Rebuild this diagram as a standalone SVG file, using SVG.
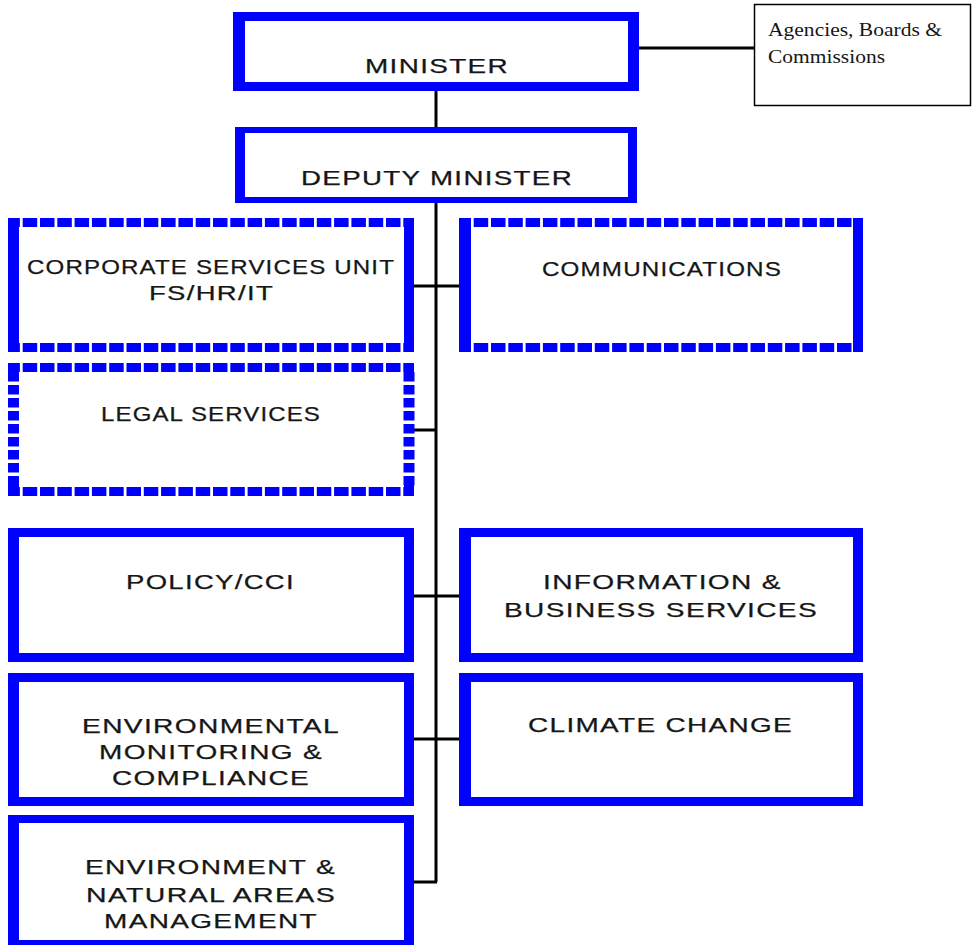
<svg xmlns="http://www.w3.org/2000/svg" width="972" height="945" viewBox="0 0 972 945">
<style>
.b{fill:#0000ff;fill-rule:evenodd}
.s{fill:#0000ff}
.dh{stroke:#0000ff;stroke-width:9;stroke-dasharray:14.5 2.8;stroke-dashoffset:2.6;fill:none}
.dv{stroke:#0000ff;stroke-width:11;stroke-dasharray:9.5 3.5;fill:none}
.t{font-family:"Liberation Sans",Arial,sans-serif;font-size:21px;letter-spacing:1px;fill:#161616;stroke:#161616;stroke-width:0.25}
.r{font-family:"Liberation Serif","Times New Roman",serif;font-size:18px;fill:#161616}
.c{stroke:#000;stroke-width:3;fill:none}
</style>
<rect width="972" height="945" fill="#fff"/>
<g id="connectors">
<path class="c" d="M436 90V128M436 202V882M414 882H437M414 430H436M414 286H459M414 596H459M414 739H459M639 48H755"/>
</g>
<g id="minister">
<path class="b" d="M233 12H639V91H233Z M245 21V82H628V21Z"/>
<text class="t" x="365" y="73" font-size="22" textLength="144" lengthAdjust="spacingAndGlyphs">MINISTER</text>
</g>
<g id="agencies">
<rect x="754.5" y="4.5" width="216" height="101" fill="#fff" stroke="#000" stroke-width="1.5"/>
<text class="r" x="768" y="36" textLength="174" lengthAdjust="spacingAndGlyphs">Agencies, Boards &amp;</text>
<text class="r" x="768" y="63" textLength="117" lengthAdjust="spacingAndGlyphs">Commissions</text>
</g>
<g id="deputy">
<path class="b" d="M235 127H637V203H235Z M245 133V197H628V133Z"/>
<text class="t" x="301" y="185" textLength="272" lengthAdjust="spacingAndGlyphs">DEPUTY MINISTER</text>
</g>
<g id="corporate">
<rect class="s" x="8" y="218" width="11" height="134"/>
<rect class="s" x="404" y="218" width="10" height="134"/>
<line class="dh" x1="8" y1="222.5" x2="414" y2="222.5"/>
<line class="dh" x1="8" y1="347.5" x2="414" y2="347.5"/>
<text class="t" x="27" y="274" textLength="368" lengthAdjust="spacingAndGlyphs">CORPORATE SERVICES UNIT</text>
<text class="t" x="149" y="300" textLength="125" lengthAdjust="spacingAndGlyphs">FS/HR/IT</text>
</g>
<g id="communications">
<rect class="s" x="459" y="218" width="12" height="134"/>
<rect class="s" x="853" y="218" width="10" height="134"/>
<line class="dh" x1="459" y1="222.5" x2="863" y2="222.5"/>
<line class="dh" x1="459" y1="347.5" x2="863" y2="347.5"/>
<text class="t" x="542" y="276" textLength="240" lengthAdjust="spacingAndGlyphs">COMMUNICATIONS</text>
</g>
<g id="legal">
<line class="dh" x1="8" y1="367.5" x2="414" y2="367.5"/>
<line class="dh" x1="8" y1="491.5" x2="414" y2="491.5"/>
<line class="dv" x1="13.5" y1="372" x2="13.5" y2="487"/>
<line class="dv" x1="409" y1="372" x2="409" y2="487"/>
<rect class="s" x="8" y="363" width="11" height="12"/>
<rect class="s" x="404" y="363" width="10" height="12"/>
<rect class="s" x="8" y="485" width="11" height="11"/>
<rect class="s" x="404" y="485" width="10" height="11"/>
<text class="t" x="101" y="421" textLength="220" lengthAdjust="spacingAndGlyphs">LEGAL SERVICES</text>
</g>
<g id="policy">
<path class="b" d="M8 528H414V662H8Z M19 537V653H404V537Z"/>
<text class="t" x="126" y="589" textLength="169" lengthAdjust="spacingAndGlyphs">POLICY/CCI</text>
</g>
<g id="information">
<path class="b" d="M459 528H863V662H459Z M471 537V653H853V537Z"/>
<text class="t" x="543" y="589" textLength="239" lengthAdjust="spacingAndGlyphs">INFORMATION &amp;</text>
<text class="t" x="504" y="617" textLength="314" lengthAdjust="spacingAndGlyphs">BUSINESS SERVICES</text>
</g>
<g id="monitoring">
<path class="b" d="M8 673H414V806H8Z M19 682V797H404V682Z"/>
<text class="t" x="82" y="733" textLength="258" lengthAdjust="spacingAndGlyphs">ENVIRONMENTAL</text>
<text class="t" x="99" y="759" textLength="224" lengthAdjust="spacingAndGlyphs">MONITORING &amp;</text>
<text class="t" x="112" y="785" textLength="198" lengthAdjust="spacingAndGlyphs">COMPLIANCE</text>
</g>
<g id="climate">
<path class="b" d="M459 673H863V806H459Z M471 682V797H853V682Z"/>
<text class="t" x="528" y="732" textLength="265" lengthAdjust="spacingAndGlyphs">CLIMATE CHANGE</text>
</g>
<g id="environment">
<path class="b" d="M8 815H414V950H8Z M19 823V940H404V823Z"/>
<text class="t" x="85" y="874" textLength="251" lengthAdjust="spacingAndGlyphs">ENVIRONMENT &amp;</text>
<text class="t" x="86" y="902" textLength="250" lengthAdjust="spacingAndGlyphs">NATURAL AREAS</text>
<text class="t" x="104" y="928" textLength="214" lengthAdjust="spacingAndGlyphs">MANAGEMENT</text>
</g>
</svg>
